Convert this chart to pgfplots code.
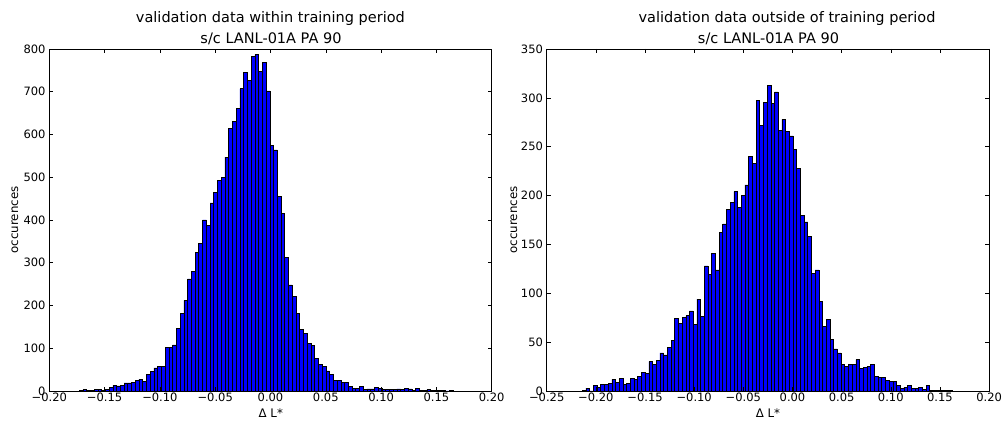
\documentclass[border=0pt]{standalone}
\usepackage{fontspec}
\setmainfont{DejaVu Sans}
\usepackage{pgfplots}
\usepackage{pgfplotstable}
\pgfplotsset{compat=1.18}

% histogram bins: left edge x, count y (last row closes the final bin)
\pgfplotstableread{
x y
-0.17300 2
-0.16962 3
-0.16624 2
-0.16286 1
-0.15948 3
-0.15610 3
-0.15272 2
-0.14934 4
-0.14596 8
-0.14258 13
-0.13920 12
-0.13582 14
-0.13244 19
-0.12906 19
-0.12568 21
-0.12230 24
-0.11892 28
-0.11554 23
-0.11216 39
-0.10878 45
-0.10540 54
-0.10202 57
-0.09864 58
-0.09526 102
-0.09188 102
-0.08850 108
-0.08512 147
-0.08174 182
-0.07836 212
-0.07498 262
-0.07160 279
-0.06822 324
-0.06484 346
-0.06146 400
-0.05808 387
-0.05470 440
-0.05132 465
-0.04794 493
-0.04456 500
-0.04118 547
-0.03780 614
-0.03442 631
-0.03104 661
-0.02766 707
-0.02428 745
-0.02090 727
-0.01752 783
-0.01414 787
-0.01076 748
-0.00738 768
-0.00400 702
-0.00062 575
0.00276 564
0.00614 456
0.00952 416
0.01290 313
0.01628 248
0.01966 221
0.02304 182
0.02642 144
0.02980 135
0.03318 112
0.03656 106
0.03994 76
0.04332 63
0.04670 57
0.05008 47
0.05346 38
0.05684 25
0.06022 25
0.06360 21
0.06698 20
0.07036 10
0.07374 6
0.07712 6
0.08050 10
0.08388 4
0.08726 5
0.09064 5
0.09402 9
0.09740 6
0.10078 4
0.10416 3
0.10754 3
0.11092 3
0.11430 5
0.11768 4
0.12106 6
0.12444 5
0.12782 2
0.13120 7
0.13458 2
0.13796 1
0.14134 3
0.14472 1
0.14810 1
0.15148 2
0.15486 1
0.15824 0
0.16162 1
0.16500 0
}\within

\pgfplotstableread{
x y
-0.21380 1
-0.21004 3
-0.20628 0
-0.20252 6
-0.19876 4
-0.19500 7
-0.19124 7
-0.18748 8
-0.18372 12
-0.17996 9
-0.17620 13
-0.17244 7
-0.16868 8
-0.16492 13
-0.16116 12
-0.15740 15
-0.15364 19
-0.14988 18
-0.14612 30
-0.14236 27
-0.13860 31
-0.13484 39
-0.13108 37
-0.12732 45
-0.12356 52
-0.11980 74
-0.11604 69
-0.11228 75
-0.10852 77
-0.10476 82
-0.10100 68
-0.09724 94
-0.09348 76
-0.08972 128
-0.08596 119
-0.08220 141
-0.07844 124
-0.07468 162
-0.07092 171
-0.06716 186
-0.06340 193
-0.05964 204
-0.05588 188
-0.05212 200
-0.04836 211
-0.04460 240
-0.04084 233
-0.03708 297
-0.03332 272
-0.02956 295
-0.02580 313
-0.02204 294
-0.01828 306
-0.01452 267
-0.01076 278
-0.00700 266
-0.00324 261
0.00052 247
0.00428 228
0.00804 180
0.01180 173
0.01556 158
0.01932 120
0.02308 124
0.02684 92
0.03060 66
0.03436 73
0.03812 53
0.04188 43
0.04564 39
0.04940 27
0.05316 25
0.05692 27
0.06068 27
0.06444 32
0.06820 23
0.07196 24
0.07572 25
0.07948 27
0.08324 15
0.08700 14
0.09076 14
0.09452 11
0.09828 10
0.10204 10
0.10580 6
0.10956 3
0.11332 4
0.11708 6
0.12084 3
0.12460 3
0.12836 4
0.13212 2
0.13588 6
0.13964 1
0.14340 1
0.14716 1
0.15092 1
0.15468 1
0.15844 1
0.16220 0
}\outside

\pgfplotsset{
  histax/.style={
    scale only axis, width=442.4pt, height=342pt,
    ymin=0,
    axis on top,
    tick align=inside,
    major tick length=4pt,
    axis line style={line width=0.8pt},
    every tick/.style={black, line width=0.6pt},
    tick label style={font=\fontsize{11.5}{13}\selectfont},
    xticklabel style={anchor=base, inner sep=0pt, yshift=-10.7pt},
    yticklabel style={anchor=east, inner sep=0pt, xshift=-3.6pt},
    /pgf/number format/assume math mode=true,
  },
  histbar/.style={ybar interval, fill=blue, draw=black, line width=0.6pt},
}

\begin{document}
\begin{tikzpicture}
\path[use as bounding box] (-49.3pt,-31pt) rectangle (953.7pt,391pt);

\begin{axis}[histax, at={(0pt,0pt)}, anchor=south west,
    xmin=-0.2, xmax=0.2, ymax=800,
    xtick={-0.2,-0.15,-0.1,-0.05,0,0.05,0.1,0.15,0.2},
    xticklabels={−0.20,−0.15,−0.10,−0.05,0.00,0.05,0.10,0.15,0.20},
    ytick={0,100,...,800}]
\addplot[histbar] table[x=x, y=y] {\within};
\end{axis}

\begin{axis}[histax, at={(497.4pt,0pt)}, anchor=south west,
    xmin=-0.25, xmax=0.2, ymax=350,
    xtick={-0.25,-0.2,-0.15,-0.1,-0.05,0,0.05,0.1,0.15,0.2},
    xticklabels={−0.25,−0.20,−0.15,−0.10,−0.05,0.00,0.05,0.10,0.15,0.20},
    ytick={0,50,...,350}]
\addplot[histbar] table[x=x, y=y] {\outside};
\end{axis}

% titles and axis labels
\begingroup
\fontsize{14.5}{17}\selectfont
\node[anchor=base, inner sep=0pt] at (221.1pt,368.5pt) {validation data within training period};
\node[anchor=base, inner sep=0pt] at (221.7pt,347.7pt) {s/c LANL-01A PA 90};
\node[anchor=base, inner sep=0pt] at (737.7pt,368.5pt) {validation data outside of training period};
\node[anchor=base, inner sep=0pt] at (719.2pt,347.7pt) {s/c LANL-01A PA 90};
\endgroup
\begingroup
\fontsize{11.8}{14}\selectfont
\node[anchor=base, inner sep=0pt] at (221.5pt,-26.3pt) {Δ L*};
\node[anchor=base, inner sep=0pt] at (718.7pt,-26.3pt) {Δ L*};
\node[anchor=base, inner sep=0pt, rotate=90] at (-31.1pt,171pt) {occurences};
\node[anchor=base, inner sep=0pt, rotate=90] at (467.7pt,171pt) {occurences};
\endgroup
\end{tikzpicture}
\end{document}
